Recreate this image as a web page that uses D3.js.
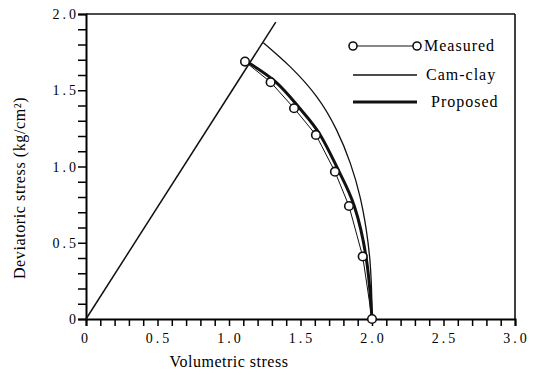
<!DOCTYPE html>
<html><head><meta charset="utf-8">
<script src="https://cdn.jsdelivr.net/npm/d3@7"></script>
<style>body{margin:0;background:#fff}svg{display:block}</style>
</head><body><svg id="c" width="533" height="375"></svg>
<script>
const measuredX = [1.112, 1.291, 1.455, 1.608, 1.741, 1.839, 1.935, 2.0];
const measuredY = [1.688, 1.553, 1.382, 1.207, 0.966, 0.741, 0.410, 0.0];
const camclayX = [1.240, 1.427, 1.613, 1.752, 1.848, 1.916, 1.960, 1.987, 1.998, 2.0];
const camclayY = [1.812, 1.655, 1.458, 1.240, 1.022, 0.803, 0.585, 0.367, 0.148, 0.0];
const proposedX = [1.120, 1.328, 1.494, 1.638, 1.770, 1.876, 1.958, 1.991, 2.0];
const proposedY = [1.690, 1.553, 1.382, 1.207, 0.966, 0.741, 0.410, 0.12, 0.0];
const cslX = [0, 1.327];
const cslY = [0, 1.947];
const xTickLabels = ["0", "0.5", "1.0", "1.5", "2.0", "2.5", "3.0"];
const yTickLabels = ["0", "0.5", "1.0", "1.5", "2.0"];
const legendLabels = ["Measured", "Cam-clay", "Proposed"];

const FONT = "'Liberation Serif', 'Times New Roman', Times, serif";
const svg = d3.select("#c");
const x = d3.scaleLinear().domain([0, 3]).range([86, 515]);
const y = d3.scaleLinear().domain([0, 2]).range([319, 14]);

// frame top/right
svg.append("line").attr("x1", x(0)).attr("x2", x(3)).attr("y1", y(2)).attr("y2", y(2)).attr("stroke", "#111").attr("stroke-width", 1.6);
svg.append("line").attr("x1", x(3)).attr("x2", x(3)).attr("y1", y(2)).attr("y2", y(0)).attr("stroke", "#111").attr("stroke-width", 1.6);

// x axis
const xMinor = d3.range(0, 31).map(d => d / 10);
const xAxis = d3.axisBottom(x).tickValues(xMinor).tickSize(7).tickFormat("");
const gx = svg.append("g").attr("transform", `translate(0,${y(0)})`).call(xAxis);
gx.select(".domain").attr("stroke-width", 2);
gx.selectAll(".tick line").attr("stroke-width", 1.5);
svg.append("g").selectAll("text").data(xTickLabels).join("text")
  .attr("font-family", FONT)
  .attr("x", d => x(+d)).attr("y", 343).attr("text-anchor", "middle")
  .attr("font-size", 14).attr("letter-spacing", 3).attr("dx", d => d.length > 1 ? 1.5 : 0)
  .text(d => d);

// y axis
const yMinor = d3.range(0, 21).map(d => d / 10);
const yAxis = d3.axisLeft(y).tickValues(yMinor).tickSize(8).tickFormat("");
const gy = svg.append("g").attr("transform", `translate(${x(0)},0)`).call(yAxis);
gy.select(".domain").attr("stroke-width", 2);
gy.selectAll(".tick line").attr("stroke-width", 1.5);
svg.append("g").selectAll("text").data(yTickLabels).join("text")
  .attr("font-family", FONT)
  .attr("x", 76).attr("y", d => y(+d) + 5).attr("text-anchor", "end")
  .attr("font-size", 14).attr("letter-spacing", 3).attr("dx", 3)
  .text(d => d);

// axis titles
svg.append("text").attr("font-family", FONT).attr("x", 229).attr("y", 367).attr("text-anchor", "middle")
  .attr("font-size", 16).attr("letter-spacing", 0.5).text("Volumetric stress");
svg.append("text").attr("font-family", FONT).attr("transform", "translate(25,188) rotate(-90)").attr("text-anchor", "middle")
  .attr("font-size", 16).attr("letter-spacing", 0.6).text("Deviatoric stress (kg/cm²)");

// CSL line
const lineGen = d3.line().x(d => x(d[0])).y(d => y(d[1]));
svg.append("path").attr("d", lineGen(d3.zip(cslX, cslY))).attr("fill", "none").attr("stroke", "#111").attr("stroke-width", 1.5);

// Cam-clay
const smooth = d3.line().x(d => x(d[0])).y(d => y(d[1])).curve(d3.curveNatural);
svg.append("path").attr("d", smooth(d3.zip(camclayX, camclayY))).attr("fill", "none").attr("stroke", "#111").attr("stroke-width", 1.3);
// Proposed
svg.append("path").attr("d", smooth(d3.zip(proposedX, proposedY))).attr("fill", "none").attr("stroke", "#111").attr("stroke-width", 3);
// Measured
const mdata = d3.zip(measuredX, measuredY);
svg.append("path").attr("d", lineGen(mdata)).attr("fill", "none").attr("stroke", "#111").attr("stroke-width", 1);
svg.append("g").selectAll("circle").data(mdata).join("circle")
  .attr("cx", d => x(d[0])).attr("cy", d => y(d[1])).attr("r", 4.3)
  .attr("fill", "#fff").attr("stroke", "#111").attr("stroke-width", 1.6);

// legend
const lg = svg.append("g");
const ly = [46, 75, 102];
lg.append("line").attr("x1", 353).attr("x2", 417).attr("y1", ly[0]).attr("y2", ly[0]).attr("stroke", "#111").attr("stroke-width", 1);
[353, 417].forEach(cx => lg.append("circle").attr("cx", cx).attr("cy", ly[0]).attr("r", 4).attr("fill", "#fff").attr("stroke", "#111").attr("stroke-width", 1.6));
lg.append("line").attr("x1", 353).attr("x2", 417).attr("y1", ly[1]).attr("y2", ly[1]).attr("stroke", "#111").attr("stroke-width", 1.3);
lg.append("line").attr("x1", 353).attr("x2", 417).attr("y1", ly[2]).attr("y2", ly[2]).attr("stroke", "#111").attr("stroke-width", 3);
const lx = [424, 426, 431];
lg.selectAll("text").data(legendLabels).join("text")
  .attr("font-family", FONT)
  .attr("x", (d, i) => lx[i]).attr("y", (d, i) => ly[i] + 5)
  .attr("font-size", 16).attr("letter-spacing", 1).text(d => d);
</script></body></html>
